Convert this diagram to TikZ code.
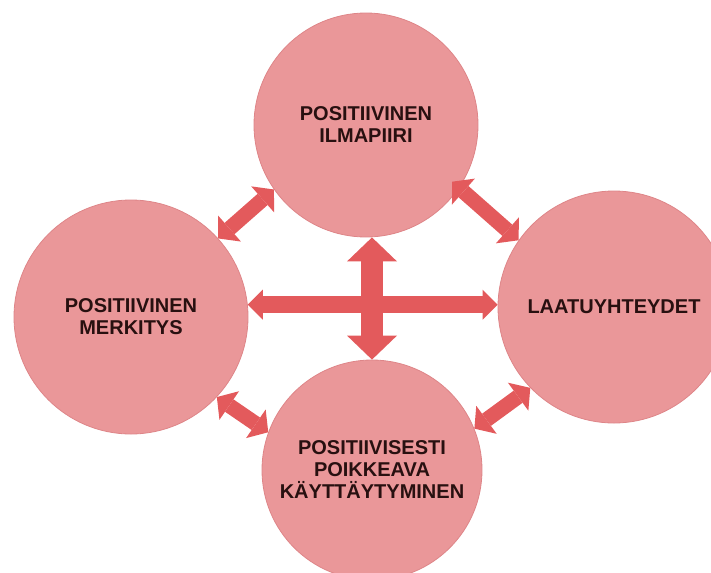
\documentclass[tikz,border=0pt]{standalone}
\usepackage{fontspec}
\setmainfont{Liberation Sans}
\usetikzlibrary{arrows.meta}

\definecolor{bubblefill}{RGB}{234,151,153}
\definecolor{bubbleline}{RGB}{222,133,136}
\definecolor{arrowred}{RGB}{227,90,92}
\definecolor{labeltext}{RGB}{40,16,16}

\tikzset{
  bubble/.style={circle, draw=bubbleline, line width=0.6pt, fill=bubblefill, inner sep=0pt,
    align=center, text=labeltext, font=\fontsize{15}{16.5}\selectfont\bfseries},
  slimlink/.style={draw=arrowred, line width=11.25pt,
    {Triangle[length=11.25pt,width=26pt,line width=0pt]}-{Triangle[length=11.25pt,width=26pt,line width=0pt]}},
  flatlink/.style={draw=arrowred, line width=12.75pt,
    {Triangle[length=11.25pt,width=22.5pt,line width=0pt]}-{Triangle[length=11.25pt,width=22.5pt,line width=0pt]}},
  tall link/.style={draw=arrowred, line width=16.5pt,
    {Triangle[length=18pt,width=37.5pt,line width=0pt]}-{Triangle[length=18pt,width=37.5pt,line width=0pt]}}
}

\begin{document}
\begin{tikzpicture}[x=0.75pt,y=0.75pt,yscale=-1]
\useasboundingbox (0,0) rectangle (711,572);

%Circles
\node [bubble, minimum size=168pt] (tp) at (366,125) {POSITIIVINEN\\ILMAPIIRI};
\node [bubble, minimum size=175.5pt] (lm) at (131,317) {POSITIIVINEN\\MERKITYS};
\node [bubble, minimum size=174pt] (rt) at (614,307) {LAATUYHTEYDET};
\node [bubble, minimum size=165pt] (bt) at (372,470) {POSITIIVISESTI\\POIKKEAVA\\KÄYTTÄYTYMINEN};

%Diagonal arrows
\draw [slimlink] (lm.42) -- (tp.215);
\draw [slimlink, shorten <=-7pt] (tp.326) -- (rt.145);
\draw [slimlink] (lm.317) -- (bt.160);
\draw [slimlink] (rt.224) -- (bt.22);

%Cross
\draw [tall link] (bt.north |- tp.south) -- (bt.north);
\draw [flatlink] (lm.6) -- (lm.6 -| rt.west);

\end{tikzpicture}
\end{document}
